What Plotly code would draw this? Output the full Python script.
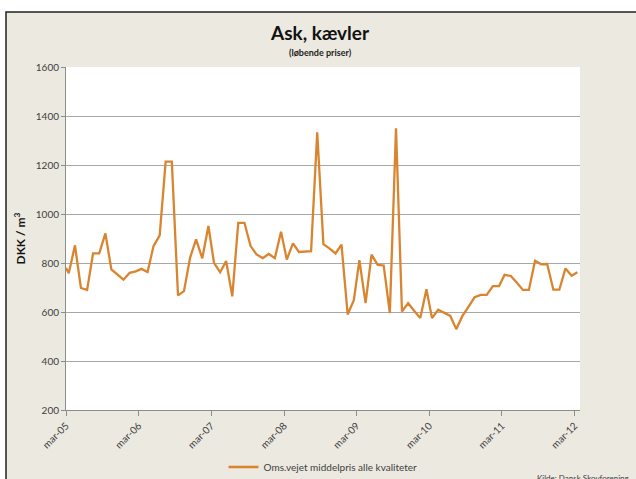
import pandas as pd
import plotly.graph_objects as go

# ---- data ----
first_date = ["2005-03-01"]
first_value = [780]
monthly_values = [
    758, 872, 698, 690, 839, 839, 921, 774, 754, 732,          # mar-05 .. dec-05
    760, 766, 776, 763, 869, 913, 1214, 1214, 668, 685, 822, 896,  # jan-06 .. dec-06
    819, 951, 801, 762, 808, 664, 964, 964, 869, 835, 820, 837,    # jan-07 .. dec-07
    820, 928, 814, 880, 845, 845, 848, 1333, 877, 860, 839, 875,   # jan-08 .. dec-08
    590, 648, 812, 636, 834, 792, 790, 596, 1350, 602, 636, 605,   # jan-09 .. dec-09
    575, 693, 575, 609, 598, 584, 530, 584, 622, 660, 670, 670,    # jan-10 .. dec-10
    706, 706, 752, 747, 720, 690, 690, 809, 795, 796, 691, 691,    # jan-11 .. dec-11
    778, 748, 762,                                                  # jan-12 .. mar-12
]
monthly_dates = [d.strftime("%Y-%m-15") for d in
                 pd.date_range("2005-03-01", periods=len(monthly_values), freq="MS")]
dates = first_date + monthly_dates
values = first_value + monthly_values

tick_dates = ["2005-03-01", "2006-03-01", "2007-03-01", "2008-03-01",
              "2009-03-01", "2010-03-01", "2011-03-01", "2012-03-01"]
tick_labels = ["mar-05", "mar-06", "mar-07", "mar-08",
               "mar-09", "mar-10", "mar-11", "mar-12"]
y_ticks = [200, 400, 600, 800, 1000, 1200, 1400, 1600]

series_name = "Oms.vejet middelpris alle kvaliteter"
title_text = "Ask, kævler"
subtitle_text = "(løbende priser)"
source_text = "Kilde: Dansk Skovforening"

# ---- styling ----
FONT = "Lato, 'Open Sans', sans-serif"
BEIGE = "#ECE9E0"
LINE = "#D98530"
TXT = "#404040"

W, H = 636, 479
L, R, T, B = 66, 56, 67, 69
pw, ph = W - L - R, H - T - B


def px_x(x):
    return (x - L) / pw


def px_y(y):
    return (H - B - y) / ph


fig = go.Figure()
fig.add_trace(go.Scatter(
    x=dates, y=values, mode="lines", name=series_name,
    line=dict(color=LINE, width=2.3),
))

fig.update_layout(
    width=W, height=H,
    margin=dict(l=L, r=R, t=T, b=B, autoexpand=False),
    paper_bgcolor="white",
    plot_bgcolor="white",
    font=dict(family=FONT, color=TXT, size=10),
    showlegend=True,
    legend=dict(orientation="h", x=0.5, xanchor="center",
                y=px_y(467), yanchor="middle",
                bgcolor="rgba(0,0,0,0)", font=dict(size=10, color=TXT),
                itemwidth=30),
    shapes=[
        dict(type="rect", xref="paper", yref="paper", layer="below",
             x0=px_x(6), x1=px_x(700), y0=px_y(560), y1=px_y(12),
             fillcolor=BEIGE, line=dict(color="#222222", width=1.5)),
        dict(type="rect", xref="paper", yref="paper", layer="below",
             x0=0, x1=1, y0=0, y1=1,
             fillcolor="white", line=dict(width=0)),
    ],
    annotations=[
        dict(text="<b>" + title_text + "</b>", xref="paper", yref="paper",
             x=px_x(320), y=px_y(33), xanchor="center", yanchor="middle",
             showarrow=False,
             font=dict(size=19, color="#111111", family=FONT)),
        dict(text="<b>" + subtitle_text + "</b>", xref="paper", yref="paper",
             x=px_x(320), y=px_y(53), xanchor="center", yanchor="middle",
             showarrow=False,
             font=dict(size=9, color="#222222", family=FONT)),
        dict(text="<b>DKK / m<sup>3</sup></b>", xref="paper", yref="paper",
             x=px_x(19), y=0.5, xanchor="center", yanchor="middle",
             showarrow=False, textangle=-90,
             font=dict(size=12, color="#111111", family=FONT)),
        dict(text=source_text, xref="paper", yref="paper",
             x=px_x(535), y=px_y(478), xanchor="left", yanchor="middle",
             showarrow=False, font=dict(size=8, color=TXT, family=FONT)),
    ],
)

fig.update_xaxes(
    type="date",
    range=["2005-03-01", "2012-03-28"],
    tickvals=tick_dates, ticktext=tick_labels,
    tickangle=-45, tickfont=dict(size=10, color=TXT),
    showgrid=False, zeroline=False,
    showline=True, linecolor="#8C8C8C", linewidth=1,
    ticks="outside", ticklen=5, tickcolor="#8C8C8C",
)
fig.update_yaxes(
    range=[200, 1600], tickvals=y_ticks,
    tickfont=dict(size=10, color=TXT),
    showgrid=True, gridcolor="#A8A8A8", gridwidth=1,
    zeroline=False,
    showline=True, linecolor="#8C8C8C", linewidth=1,
    ticks="outside", ticklen=4, tickcolor="#8C8C8C",
)

fig.write_html(
    "out.html",
    config={"displayModeBar": False},
    post_script="document.body.style.margin='0';document.body.style.padding='0';",
)
